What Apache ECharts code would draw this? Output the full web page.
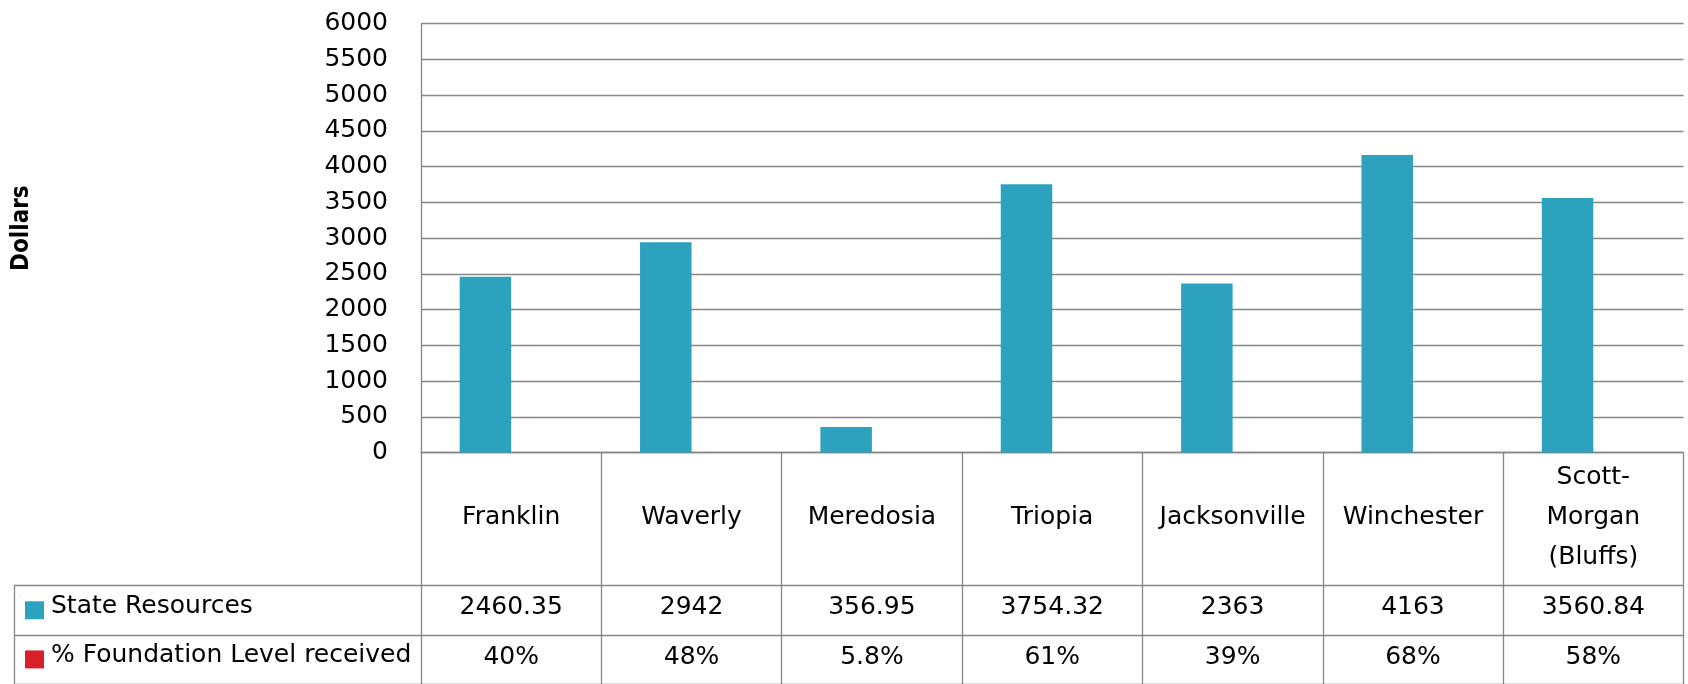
<!DOCTYPE html>
<html>
<head>
<meta charset="utf-8">
<script src="https://cdn.jsdelivr.net/npm/echarts@6/dist/echarts.min.js"></script>
<style>
  html, body { margin: 0; padding: 0; background: #ffffff; }
  #chart { width: 1688px; height: 684px; }
</style>
</head>
<body>
<div id="chart"></div>
<script>
// District names shown along the category axis / table header row
const categories = ['Franklin', 'Waverly', 'Meredosia', 'Triopia', 'Jacksonville', 'Winchester', 'Scott-Morgan (Bluffs)'];
// Table row headers (series names)
const seriesNames = ['State Resources', '% Foundation Level received'];
// State resources per district, in dollars
const stateResources = [2460.35, 2942, 356.95, 3754.32, 2363, 4163, 3560.84];
// Share of the foundation level received (fraction)
const foundationShare = [0.40, 0.48, 0.058, 0.61, 0.39, 0.68, 0.58];
// Value axis range and step
const yAxisMin = 0;
const yAxisMax = 6000;
const yAxisStep = 500;

const FONT = 'DejaVu Sans';
const TITLE_FONT = "'Liberation Sans Narrow', 'DejaVu Sans Condensed', sans-serif";
const BLUE = '#2CA2BF';
const RED = '#D9202A';
const RULE = '#868686';
const RULE_W = 1.3;

const fmtPct = v => String(+(v * 100).toFixed(1)) + '%';
const wrapCategory = v => v.replace('-', '-\n').replace(' (', '\n(');

const chart = echarts.init(document.getElementById('chart'), null, { renderer: 'canvas' });

const valueRowLabel = margin => ({
  interval: 0,
  margin: margin,
  verticalAlign: 'middle',
  fontFamily: FONT,
  fontSize: 25,
  color: '#000'
});

const ruleStyle = { color: RULE, width: RULE_W };

const option = {
  animation: false,
  backgroundColor: '#ffffff',
  grid: [
    { left: 421, top: 23.7, width: 1262.5, height: 428.8 },
    { left: 14, top: 585.7, width: 1669.5, height: 100 }
  ],
  xAxis: [
    {
      gridIndex: 0,
      type: 'category',
      data: categories,
      axisLine: { show: true, lineStyle: ruleStyle },
      axisTick: { show: true, interval: 0, length: 232, lineStyle: ruleStyle },
      splitLine: { show: false },
      axisLabel: {
        interval: 0,
        margin: 65,
        verticalAlign: 'middle',
        lineHeight: 40,
        fontFamily: FONT,
        fontSize: 25,
        color: '#000',
        formatter: wrapCategory
      }
    },
    {
      gridIndex: 0,
      type: 'category',
      position: 'bottom',
      data: stateResources.map(String),
      axisLine: { show: false },
      axisTick: { show: false },
      axisLabel: valueRowLabel(155)
    },
    {
      gridIndex: 0,
      type: 'category',
      position: 'bottom',
      data: foundationShare.map(fmtPct),
      axisLine: { show: false },
      axisTick: { show: false },
      axisLabel: valueRowLabel(205)
    },
    { gridIndex: 1, type: 'value', show: false }
  ],
  yAxis: [
    {
      gridIndex: 0,
      type: 'value',
      min: yAxisMin,
      max: yAxisMax,
      interval: yAxisStep,
      axisLine: { show: true, lineStyle: ruleStyle },
      axisTick: { show: false },
      splitLine: { show: true, lineStyle: ruleStyle },
      axisLabel: {
        margin: 33,
        fontFamily: FONT,
        fontSize: 25,
        color: '#000',
        padding: [0, 0, 7, 0],
        formatter: v => String(v)
      },
      name: 'Dollars',
      nameLocation: 'middle',
      nameRotate: 90,
      nameGap: 387,
      nameTextStyle: {
        fontFamily: TITLE_FONT,
        fontWeight: 'bold',
        fontSize: 24,
        color: '#000',
        padding: [0, 0, 0, 20]
      }
    },
    {
      gridIndex: 1,
      type: 'category',
      inverse: true,
      data: seriesNames,
      axisLine: { show: true, lineStyle: ruleStyle },
      axisTick: { show: false },
      splitLine: { show: true, lineStyle: ruleStyle },
      axisLabel: {
        inside: true,
        margin: 11,
        formatter: (value, index) => '{k' + index + '|}{t|' + value + '}',
        rich: {
          k0: { width: 19, height: 18, backgroundColor: BLUE },
          k1: { width: 19, height: 18, backgroundColor: RED },
          t: { fontFamily: FONT, fontSize: 25, color: '#000', padding: [0, 0, 8, 7] }
        }
      }
    }
  ],
  series: [
    {
      type: 'bar',
      name: seriesNames[0],
      xAxisIndex: 0,
      yAxisIndex: 0,
      data: stateResources,
      barWidth: 51.5,
      barGap: '0%',
      itemStyle: { color: BLUE }
    },
    {
      type: 'bar',
      name: seriesNames[1],
      xAxisIndex: 0,
      yAxisIndex: 0,
      data: foundationShare,
      barWidth: 51.5,
      barGap: '0%',
      itemStyle: { color: RED }
    }
  ]
};

chart.setOption(option);
</script>
</body>
</html>
